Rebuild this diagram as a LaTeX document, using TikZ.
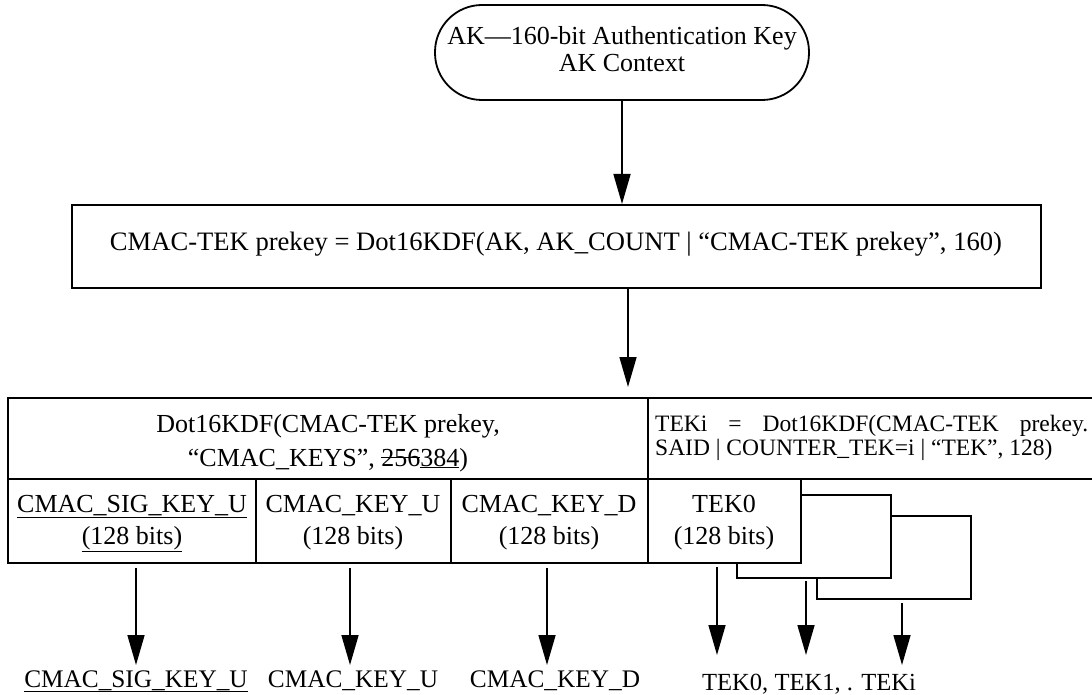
\documentclass[tikz,border=0pt]{standalone}
\usepackage{fontspec}
\setmainfont{Liberation Serif}
\usetikzlibrary{arrows.meta}
\newcommand\mystrike[1]{\setbox0\hbox{#1}\rlap{\rule[0.3em]{\wd0}{1pt}}\box0}
\newcommand\myul[1]{\underline{#1}}
\begin{document}
\begin{tikzpicture}[x=1pt,y=-1pt,
  ln/.style={line width=1.8pt},
  arr/.style={line width=1.6pt,-{Triangle[length=30pt,width=17pt]}},
  txt/.style={inner sep=0pt,anchor=base,font=\fontsize{26}{30}\selectfont},
  big/.style={txt,font=\fontsize{26.6}{30}\selectfont},
  sml/.style={txt,font=\fontsize{23.5}{24}\selectfont},
  lab/.style={txt,font=\fontsize{25.3}{30}\selectfont},
  ]
\useasboundingbox (0,0) rectangle (1092,695);
% top stadium
\draw[ln,rounded corners=47pt] (435,5) rectangle (809,100);
\node[txt] (ak) at (622,45) {AK---160-bit Authentication Key};
\node[txt] (akc) at (622,72) {AK Context};
\coordinate (akb) at (622,100);
% main box
\draw[ln] (72,205) rectangle (1041,288);
\node[big] (pk) at (556,251) {CMAC-TEK prekey = Dot16KDF(AK, AK\_COUNT | ``CMAC-TEK prekey'', 160)};
\coordinate (pkt) at (622,204);
\coordinate (pkb) at (628,288);
\coordinate (tabt) at (628,387);
\draw[arr] (akb) -- (pkt);
\draw[arr] (pkb) -- (tabt);
% stacked TEK boxes (behind)
\draw[ln,fill=white] (817,516) rectangle (971,599);
\draw[ln,fill=white] (737,495) rectangle (891,578);
% table
\draw[ln,fill=white] (648,479) rectangle (801,563);
\draw[ln] (1100,398) -- (8,398) -- (8,563) -- (648,563);
\draw[ln] (8,479) -- (1100,479);
\draw[ln] (648,398) -- (648,563);
\draw[ln] (256,479) -- (256,563);
\draw[line width=2.8pt] (451,479) -- (451,563);
\node[txt] (kdf) at (328,432) {Dot16KDF(CMAC-TEK prekey,};
\node[txt] (kdfb) at (328,466) {``CMAC\_KEYS'', \mystrike{256}\myul{384})};
\node[sml,anchor=base west] (teki) at (655,431) {\hbox to 433pt{TEKi\hfill=\hfill Dot16KDF(CMAC-TEK\hfill prekey.}};
\node[sml,anchor=base west] (tekib) at (655,455) {SAID | COUNTER\_TEK=i | ``TEK'', 128)};
\node[txt] (c1) at (132,512) {\myul{CMAC\_SIG\_KEY\_U}};
\node[txt] (c1b) at (132,544) {\myul{(128 bits)}};
\node[txt] (c2) at (353,512) {CMAC\_KEY\_U};
\node[txt] (c2b) at (353,544) {(128 bits)};
\node[txt] (c3) at (549,512) {CMAC\_KEY\_D};
\node[txt] (c3b) at (549,544) {(128 bits)};
\node[txt] (c4) at (724,512) {TEK0};
\node[txt] (c4b) at (724,544) {(128 bits)};
% bottom labels
\node[lab] (l1) at (136,687) {\myul{CMAC\_SIG\_KEY\_U}};
\node[lab] (l2) at (353,687) {CMAC\_KEY\_U};
\node[lab] (l3) at (555,687) {CMAC\_KEY\_D};
\node[lab,font=\fontsize{24.6}{30}\selectfont] (l4) at (809,690) {TEK0, TEK1, . TEKi};
\coordinate (s1) at (136,568); \coordinate (e1) at (136,665);
\coordinate (s2) at (350,568); \coordinate (e2) at (350,665);
\coordinate (s3) at (547,568); \coordinate (e3) at (547,665);
\coordinate (s4) at (717,567); \coordinate (e4) at (717,655);
\coordinate (s5) at (806,581); \coordinate (e5) at (806,655);
\coordinate (s6) at (902,603); \coordinate (e6) at (902,665);
\draw[arr] (s1) -- (e1);
\draw[arr] (s2) -- (e2);
\draw[arr] (s3) -- (e3);
\draw[arr] (s4) -- (e4);
\draw[arr] (s5) -- (e5);
\draw[arr] (s6) -- (e6);
\end{tikzpicture}
\end{document}
